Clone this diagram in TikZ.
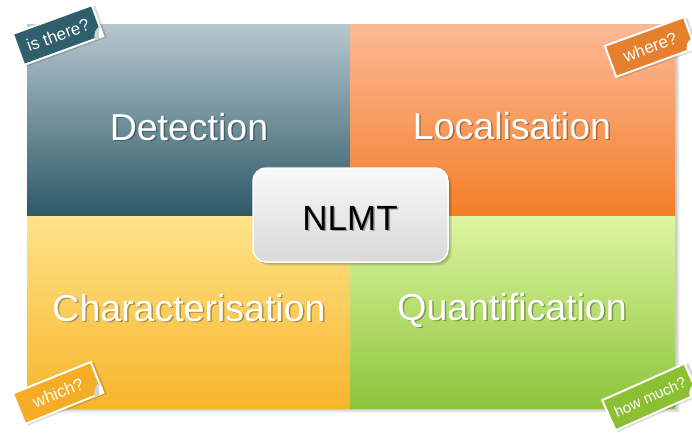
\documentclass[tikz,border=0pt]{standalone}
\usepackage{fontspec}
\setmainfont{Liberation Sans}
\usetikzlibrary{shadings}
\definecolor{tlA}{HTML}{B6C7CE}
\definecolor{tlB}{HTML}{2C5867}
\definecolor{trA}{HTML}{FCB996}
\definecolor{trB}{HTML}{F47E28}
\definecolor{blA}{HTML}{FEE38A}
\definecolor{blB}{HTML}{F7B52A}
\definecolor{brA}{HTML}{DDF6A2}
\definecolor{brB}{HTML}{8DC43A}
\definecolor{tag1}{HTML}{2F5E6C}
\definecolor{tag2}{HTML}{E5802F}
\definecolor{tag3}{HTML}{F4AD24}
\definecolor{tag4}{HTML}{8CC034}
\tikzset{
  bigtext/.style={font=\fontsize{37.5}{40}\selectfont, text=white, inner sep=0pt, anchor=base},
  bigshadow/.style={font=\fontsize{37.5}{40}\selectfont, text=black, opacity=0.3, inner sep=0pt, anchor=base},
  tagbox/.style={draw=white, line width=2pt, minimum width=84pt, minimum height=33pt,
     inner sep=0pt, text=white, font=\fontsize{17}{18}\selectfont},
  curl/.style={fill=white},
  curlin/.style={fill=black!18},
}
\begin{document}
\begin{tikzpicture}[x=1pt,y=1pt]
\useasboundingbox (0,0) rectangle (692,432);
% soft shadow of the panel
\foreach \o/\a in {5/0.04,4/0.05,3/0.06,2/0.07}{
  \fill[black,opacity=\a] (27+\o,24-\o) rectangle (675+\o,407-\o);
}
% quadrants
\shade[top color=tlA, bottom color=tlB] (27,216) rectangle (350,407);
\shade[top color=trA, bottom color=trB] (350,216) rectangle (675,407);
\shade[top color=blA, bottom color=blB] (27,24) rectangle (350,216);
\shade[top color=brA, bottom color=brB] (350,24) rectangle (675,216);
% quadrant labels
\node[bigshadow] at (190.5,290.5) {Detection};
\node[bigtext] (det) at (189,292) {Detection};
\node[bigshadow] at (513.5,291.5) {Localisation};
\node[bigtext] (loc) at (512,293) {Localisation};
\node[bigshadow] at (190.5,109.5) {Characterisation};
\node[bigtext] (cha) at (189,111) {Characterisation};
\node[bigshadow] at (513.5,110.5) {Quantification};
\node[bigtext] (qua) at (512,112) {Quantification};
% centre box
\foreach \o/\a in {4/0.06,3/0.08,2/0.1}{
  \fill[black,opacity=\a,rounded corners=13pt] (253+\o,170-\o) rectangle (448+\o,264-\o);
}
\shade[top color=white!95!gray, bottom color=black!15, rounded corners=13pt]
  (253,170) rectangle (448,264);
\draw[white, line width=1.5pt, rounded corners=13pt] (253,170) rectangle (448,264);
\node[font=\fontsize{35}{38}\selectfont, text=black, opacity=0.3, inner sep=0pt, anchor=base] at (351.5,200.5) {NLMT};
\node[font=\fontsize{35}{38}\selectfont, text=black, inner sep=0pt, anchor=base] (nlmt) at (350,202) {NLMT};
% corner tags
\begin{scope}[shift={(58,397)}, rotate=20, transform shape]
  \fill[black,opacity=0.15] (-40,-19) rectangle (45,15);
  \node[tagbox, fill=tag1] (t1) at (0,0) {is there?};
  \fill[curl] (43,-6) .. controls (37,-7) and (34,-11) .. (33,-17.5) -- (43,-17.5) -- cycle;
  \fill[curlin] (43,-6) .. controls (40,-9) and (38,-13) .. (38,-17.5) -- (33,-17.5) .. controls (34,-11) and (37,-7) .. (43,-6);
\end{scope}
\begin{scope}[shift={(650,385)}, rotate=20, transform shape]
  \fill[black,opacity=0.15] (-40,-19) rectangle (45,15);
  \node[tagbox, fill=tag2] (t2) at (0,0) {where?};
  \fill[curl] (43,-6) .. controls (37,-7) and (34,-11) .. (33,-17.5) -- (43,-17.5) -- cycle;
\end{scope}
\begin{scope}[shift={(58,39)}, rotate=22, transform shape]
  \fill[black,opacity=0.15] (-40,-19) rectangle (45,15);
  \node[tagbox, fill=tag3] (t3) at (0,0) {which?};
  \fill[curl] (43,-6) .. controls (37,-7) and (34,-11) .. (33,-17.5) -- (43,-17.5) -- cycle;
  \fill[curlin] (43,-6) .. controls (40,-9) and (38,-13) .. (38,-17.5) -- (33,-17.5) .. controls (34,-11) and (37,-7) .. (43,-6);
\end{scope}
\begin{scope}[shift={(650,35)}, rotate=24, transform shape]
  \fill[black,opacity=0.15] (-44,-19) rectangle (49,15);
  \node[tagbox, fill=tag4, minimum width=90pt, font=\fontsize{15}{16}\selectfont] (t4) at (0,0) {how much?};
  \fill[curl] (46,-6) .. controls (40,-7) and (37,-11) .. (36,-17.5) -- (46,-17.5) -- cycle;
\end{scope}
\end{tikzpicture}
\end{document}
